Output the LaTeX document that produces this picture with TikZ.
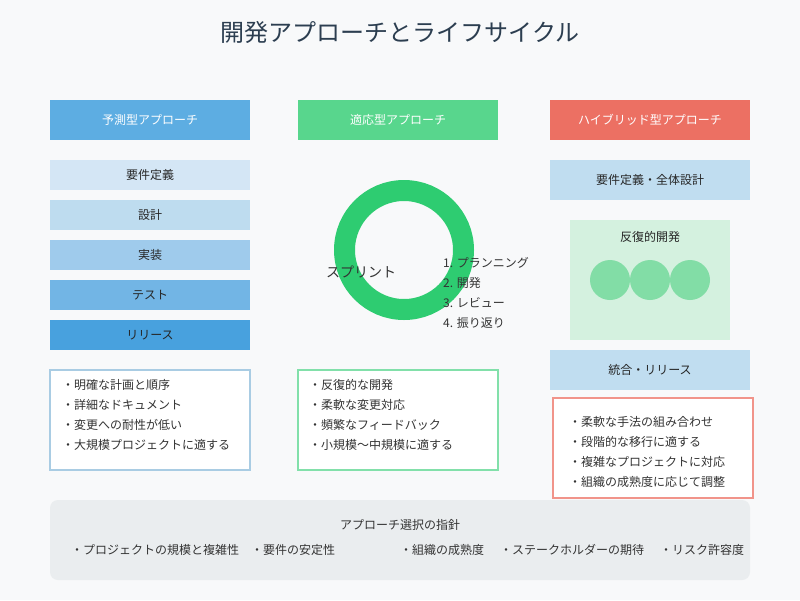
\documentclass[tikz,border=0pt]{standalone}
\usepackage{fontspec}
\setmainfont{Noto Sans CJK JP}
\definecolor{bg}{HTML}{F8F9FA}
\definecolor{titlec}{HTML}{2C3E50}
\definecolor{txtc}{HTML}{333333}
\definecolor{bluehead}{HTML}{5DADE2}
\definecolor{greenhead}{HTML}{58D68D}
\definecolor{redhead}{HTML}{EC7063}
\definecolor{stepa}{HTML}{D4E6F5}
\definecolor{stepb}{HTML}{BEDCEF}
\definecolor{stepc}{HTML}{9FCBEC}
\definecolor{stepd}{HTML}{72B5E5}
\definecolor{stepe}{HTML}{48A1DE}
\definecolor{hyblue}{HTML}{C0DDF0}
\definecolor{hygreen}{HTML}{D4F1DF}
\definecolor{hycircle}{HTML}{82DDA6}
\definecolor{ringc}{HTML}{2ECC71}
\definecolor{borderblue}{HTML}{A9CCE3}
\definecolor{bordergreen}{HTML}{82E0AA}
\definecolor{borderred}{HTML}{F1948A}
\definecolor{guidebg}{HTML}{EAEDEF}
\begin{document}
\begin{tikzpicture}[x=1pt,y=-1pt,
  box/.style={minimum width=200pt, minimum height=40pt, inner sep=0pt, outer sep=0pt, draw=none},
  hdr/.style={box, text=white, font=\fontsize{12}{14}\selectfont},
  stepbox/.style={box, minimum height=30pt, font=\fontsize{12}{14}\selectfont, text=black!85},
  txt/.style={font=\fontsize{12}{14}\selectfont, text=txtc, inner sep=0pt, anchor=west},
  ctxt/.style={font=\fontsize{12}{14}\selectfont, text=txtc, inner sep=0pt},
  listbox/.style={fill=white, line width=1.5pt, minimum width=200pt, minimum height=100pt, inner sep=0pt},
]
\useasboundingbox (0,0) rectangle (800,600);
\fill[bg] (0,0) rectangle (800,600);

% title
\node[font=\fontsize{24}{28}\selectfont, text=titlec, inner sep=0pt] (title) at (400,32) {開発アプローチとライフサイクル};

% headers
\node[hdr, fill=bluehead] (predH) at (150,120) {予測型アプローチ};
\node[hdr, fill=greenhead] (adapH) at (398,120) {適応型アプローチ};
\node[hdr, fill=redhead] (hybH) at (650,120) {ハイブリッド型アプローチ};

% predictive steps
\node[stepbox, fill=stepa] (s1) at (150,175) {要件定義};
\node[stepbox, fill=stepb] (s2) at (150,215) {設計};
\node[stepbox, fill=stepc] (s3) at (150,255) {実装};
\node[stepbox, fill=stepd] (s4) at (150,295) {テスト};
\node[stepbox, fill=stepe] (s5) at (150,335) {リリース};

% adaptive ring
\draw[ringc, line width=21pt] (404,250) circle[radius=59.5pt];
\node[font=\fontsize{14}{16}\selectfont, text=txtc, inner sep=0pt] (sprint) at (361,272) {スプリント};
\node[txt] (l1) at (443,263) {1. プランニング};
\node[txt] (l2) at (443,283) {2. 開発};
\node[txt] (l3) at (443,303) {3. レビュー};
\node[txt] (l4) at (443,323) {4. 振り返り};

% hybrid
\node[box, fill=hyblue, font=\fontsize{12}{14}\selectfont, text=black!85] (h1) at (650,180) {要件定義・全体設計};
\node[box, fill=hygreen, minimum width=160pt, minimum height=120pt] (h2) at (650,280) {};
\node[ctxt, text=black!85] (h2t) at (650,237) {反復的開発};
\fill[hycircle] (610,280) circle[radius=20pt];
\fill[hycircle] (650,280) circle[radius=20pt];
\fill[hycircle] (690,280) circle[radius=20pt];
\node[box, fill=hyblue, font=\fontsize{12}{14}\selectfont, text=black!85] (h3) at (650,370) {統合・リリース};

% list boxes
\node[listbox, draw=borderblue] (pb) at (150,420) {};
\node[txt] (p1) at (62,385) {・明確な計画と順序};
\node[txt] (p2) at (62,405) {・詳細なドキュメント};
\node[txt] (p3) at (62,425) {・変更への耐性が低い};
\node[txt] (p4) at (62,445) {・大規模プロジェクトに適する};

\node[listbox, draw=bordergreen] (ab) at (398,420) {};
\node[txt] (a1) at (309,385) {・反復的な開発};
\node[txt] (a2) at (309,405) {・柔軟な変更対応};
\node[txt] (a3) at (309,425) {・頻繁なフィードバック};
\node[txt] (a4) at (309,445) {・小規模〜中規模に適する};

\node[listbox, draw=borderred] (hb) at (653,448) {};
\node[txt] (b1) at (569,422) {・柔軟な手法の組み合わせ};
\node[txt] (b2) at (569,442) {・段階的な移行に適する};
\node[txt] (b3) at (569,462) {・複雑なプロジェクトに対応};
\node[txt] (b4) at (569,482) {・組織の成熟度に応じて調整};

% guidance
\node[fill=guidebg, rounded corners=8pt, minimum width=700pt, minimum height=80pt, inner sep=0pt] (gb) at (400,540) {};
\node[ctxt] (gt) at (400,525) {アプローチ選択の指針};
\node[ctxt] (g1) at (155,550) {・プロジェクトの規模と複雑性};
\node[ctxt] (g2) at (293,550) {・要件の安定性};
\node[ctxt] (g3) at (442,550) {・組織の成熟度};
\node[ctxt] (g4) at (572,550) {・ステークホルダーの期待};
\node[ctxt] (g5) at (702,550) {・リスク許容度};
\end{tikzpicture}
\end{document}
